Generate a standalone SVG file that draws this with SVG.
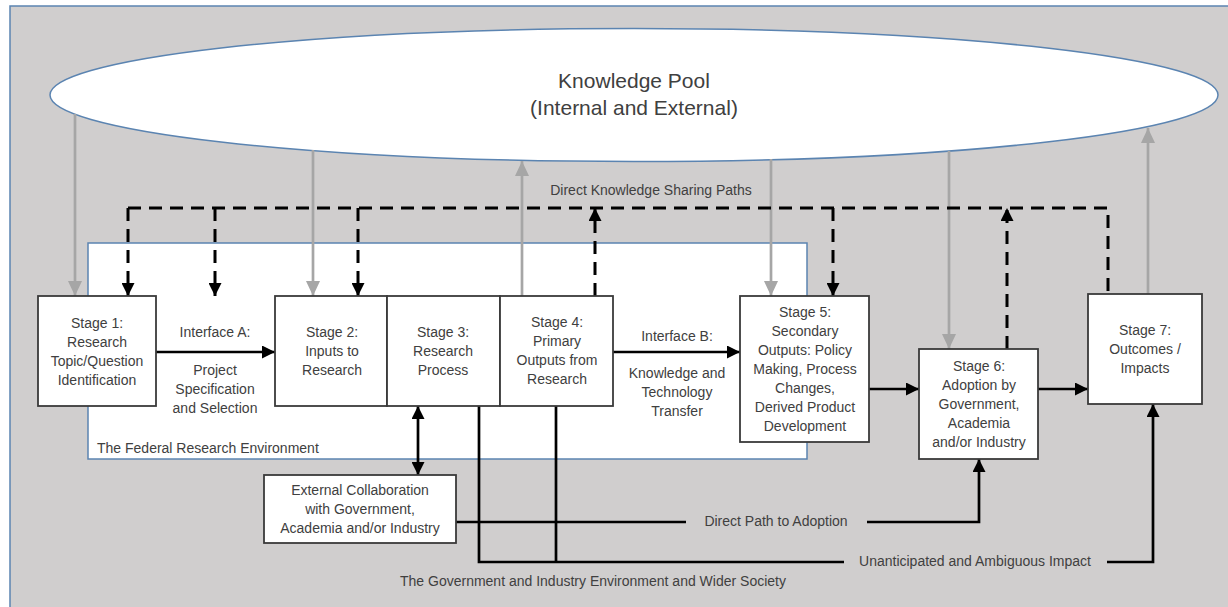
<svg xmlns="http://www.w3.org/2000/svg" width="1228" height="607" viewBox="0 0 1228 607">
  <defs>
    <style>
      .txt { font-family: "Liberation Sans", Arial, sans-serif; font-size: 14px; fill: #404040; }
      .mid { text-anchor: middle; }
      .big { font-size: 21px; }
      .box { fill: #ffffff; stroke: #3a3a3a; stroke-width: 1.8; }
      .env { fill: #ffffff; stroke: #5b84b1; stroke-width: 1.5; }
      .solid { fill: none; stroke: #000000; stroke-width: 2.7; }
      .dash { fill: none; stroke: #000000; stroke-width: 3; stroke-dasharray: 13 8; }
      .grey { fill: none; stroke: #a6a6a6; stroke-width: 2.7; }
    </style>
    <marker id="headBlack" markerUnits="userSpaceOnUse" markerWidth="13" markerHeight="13" refX="13" refY="6.5" orient="auto-start-reverse">
      <path d="M0,0 L13,6.5 L0,13 Z" fill="#000000"/>
    </marker>
    <marker id="headGrey" markerUnits="userSpaceOnUse" markerWidth="15" markerHeight="14" refX="15" refY="7" orient="auto">
      <path d="M0,0 L15,7 L0,14 Z" fill="#a6a6a6"/>
    </marker>
  </defs>

  <!-- wider society background -->
  <rect x="10" y="6" width="1230" height="612" fill="#d0cece" stroke="#5b84b1" stroke-width="1.5"/>

  <!-- knowledge pool -->
  <g id="knowledge-pool">
    <ellipse cx="634" cy="95" rx="584" ry="66.5" fill="#ffffff" stroke="#5b84b1" stroke-width="1.5"/>
    <text class="txt mid big" x="634" y="88">Knowledge Pool</text>
    <text class="txt mid big" x="634" y="115">(Internal and External)</text>
  </g>

  <!-- federal research environment -->
  <g id="federal-environment">
    <rect class="env" x="88" y="243" width="719" height="216"/>
    <text class="txt" x="97" y="453">The Federal Research Environment</text>
  </g>

  <!-- connectors -->
  <g id="connectors">
    <!-- knowledge pool exchanges -->
    <line class="grey" x1="75" y1="114" x2="75" y2="296" marker-end="url(#headGrey)"/>
    <line class="grey" x1="313" y1="150" x2="313" y2="296" marker-end="url(#headGrey)"/>
    <line class="grey" x1="522" y1="296" x2="522" y2="161" marker-end="url(#headGrey)"/>
    <line class="grey" x1="771" y1="159" x2="771" y2="296" marker-end="url(#headGrey)"/>
    <line class="grey" x1="949" y1="151" x2="949" y2="349" marker-end="url(#headGrey)"/>
    <line class="grey" x1="1148" y1="294" x2="1148" y2="128" marker-end="url(#headGrey)"/>

    <!-- direct knowledge sharing paths -->
    <path class="dash" d="M128,208 H1108 V294"/>
    <line class="dash" x1="128" y1="208" x2="128" y2="296" marker-end="url(#headBlack)"/>
    <line class="dash" x1="215" y1="208" x2="215" y2="296" marker-end="url(#headBlack)"/>
    <line class="dash" x1="358" y1="208" x2="358" y2="296" marker-end="url(#headBlack)"/>
    <line class="dash" x1="833" y1="208" x2="833" y2="296" marker-end="url(#headBlack)"/>
    <line class="dash" x1="595" y1="296" x2="595" y2="208" marker-end="url(#headBlack)"/>
    <line class="dash" x1="1007" y1="349" x2="1007" y2="208" marker-end="url(#headBlack)"/>
    <text class="txt mid" x="651" y="195">Direct Knowledge Sharing Paths</text>

    <!-- main stage flow -->
    <line class="solid" x1="156" y1="352" x2="275" y2="352" marker-end="url(#headBlack)"/>
    <line class="solid" x1="613" y1="352" x2="740" y2="352" marker-end="url(#headBlack)"/>
    <line class="solid" x1="869" y1="389" x2="919" y2="389" marker-end="url(#headBlack)"/>
    <line class="solid" x1="1038" y1="389" x2="1088" y2="389" marker-end="url(#headBlack)"/>

    <text class="txt mid" x="215" y="337">Interface A:</text>
    <text class="txt mid" x="215" y="375">Project</text>
    <text class="txt mid" x="215" y="394">Specification</text>
    <text class="txt mid" x="215" y="413">and Selection</text>

    <text class="txt mid" x="677" y="341">Interface B:</text>
    <text class="txt mid" x="677" y="378">Knowledge and</text>
    <text class="txt mid" x="677" y="397">Technology</text>
    <text class="txt mid" x="677" y="416">Transfer</text>

    <!-- external collaboration link -->
    <line class="solid" x1="418" y1="406" x2="418" y2="475" marker-start="url(#headBlack)" marker-end="url(#headBlack)"/>

    <!-- direct path to adoption -->
    <path class="solid" d="M456,522 H686"/>
    <path class="solid" d="M867,522 H979 V459" marker-end="url(#headBlack)"/>
    <text class="txt mid" x="776" y="526">Direct Path to Adoption</text>

    <!-- unanticipated impact -->
    <path class="solid" d="M479,406 V562 H844"/>
    <path class="solid" d="M556,406 V562"/>
    <path class="solid" d="M1107,562 H1153 V404" marker-end="url(#headBlack)"/>
    <text class="txt mid" x="975" y="566">Unanticipated and Ambiguous Impact</text>

    <text class="txt" x="400" y="586">The Government and Industry Environment and Wider Society</text>
  </g>

  <!-- stages -->
  <g id="stage-1">
    <rect class="box" x="38" y="296" width="118" height="110"/>
    <text class="txt mid" x="97" y="328">Stage 1:</text>
    <text class="txt mid" x="97" y="347">Research</text>
    <text class="txt mid" x="97" y="366">Topic/Question</text>
    <text class="txt mid" x="97" y="385">Identification</text>
  </g>

  <g id="stage-2">
    <rect class="box" x="275" y="296" width="112" height="110"/>
    <text class="txt mid" x="332" y="337">Stage 2:</text>
    <text class="txt mid" x="332" y="356">Inputs to</text>
    <text class="txt mid" x="332" y="375">Research</text>
  </g>

  <g id="stage-3">
    <rect class="box" x="387" y="296" width="113" height="110"/>
    <text class="txt mid" x="443" y="337">Stage 3:</text>
    <text class="txt mid" x="443" y="356">Research</text>
    <text class="txt mid" x="443" y="375">Process</text>
  </g>

  <g id="stage-4">
    <rect class="box" x="500" y="296" width="113" height="110"/>
    <text class="txt mid" x="557" y="327">Stage 4:</text>
    <text class="txt mid" x="557" y="346">Primary</text>
    <text class="txt mid" x="557" y="365">Outputs from</text>
    <text class="txt mid" x="557" y="384">Research</text>
  </g>

  <g id="stage-5">
    <rect class="box" x="740" y="296" width="129" height="146"/>
    <text class="txt mid" x="805" y="317">Stage 5:</text>
    <text class="txt mid" x="805" y="336">Secondary</text>
    <text class="txt mid" x="805" y="355">Outputs: Policy</text>
    <text class="txt mid" x="805" y="374">Making, Process</text>
    <text class="txt mid" x="805" y="393">Changes,</text>
    <text class="txt mid" x="805" y="412">Derived Product</text>
    <text class="txt mid" x="805" y="431">Development</text>
  </g>

  <g id="stage-6">
    <rect class="box" x="919" y="349" width="119" height="110"/>
    <text class="txt mid" x="979" y="371">Stage 6:</text>
    <text class="txt mid" x="979" y="390">Adoption by</text>
    <text class="txt mid" x="979" y="409">Government,</text>
    <text class="txt mid" x="979" y="428">Academia</text>
    <text class="txt mid" x="979" y="447">and/or Industry</text>
  </g>

  <g id="stage-7">
    <rect class="box" x="1088" y="294" width="114" height="110"/>
    <text class="txt mid" x="1145" y="335">Stage 7:</text>
    <text class="txt mid" x="1145" y="354">Outcomes /</text>
    <text class="txt mid" x="1145" y="373">Impacts</text>
  </g>

  <g id="external-collaboration">
    <rect class="box" x="264" y="475" width="192" height="68"/>
    <text class="txt mid" x="360" y="495">External Collaboration</text>
    <text class="txt mid" x="360" y="514">with Government,</text>
    <text class="txt mid" x="360" y="533">Academia and/or Industry</text>
  </g>
</svg>
